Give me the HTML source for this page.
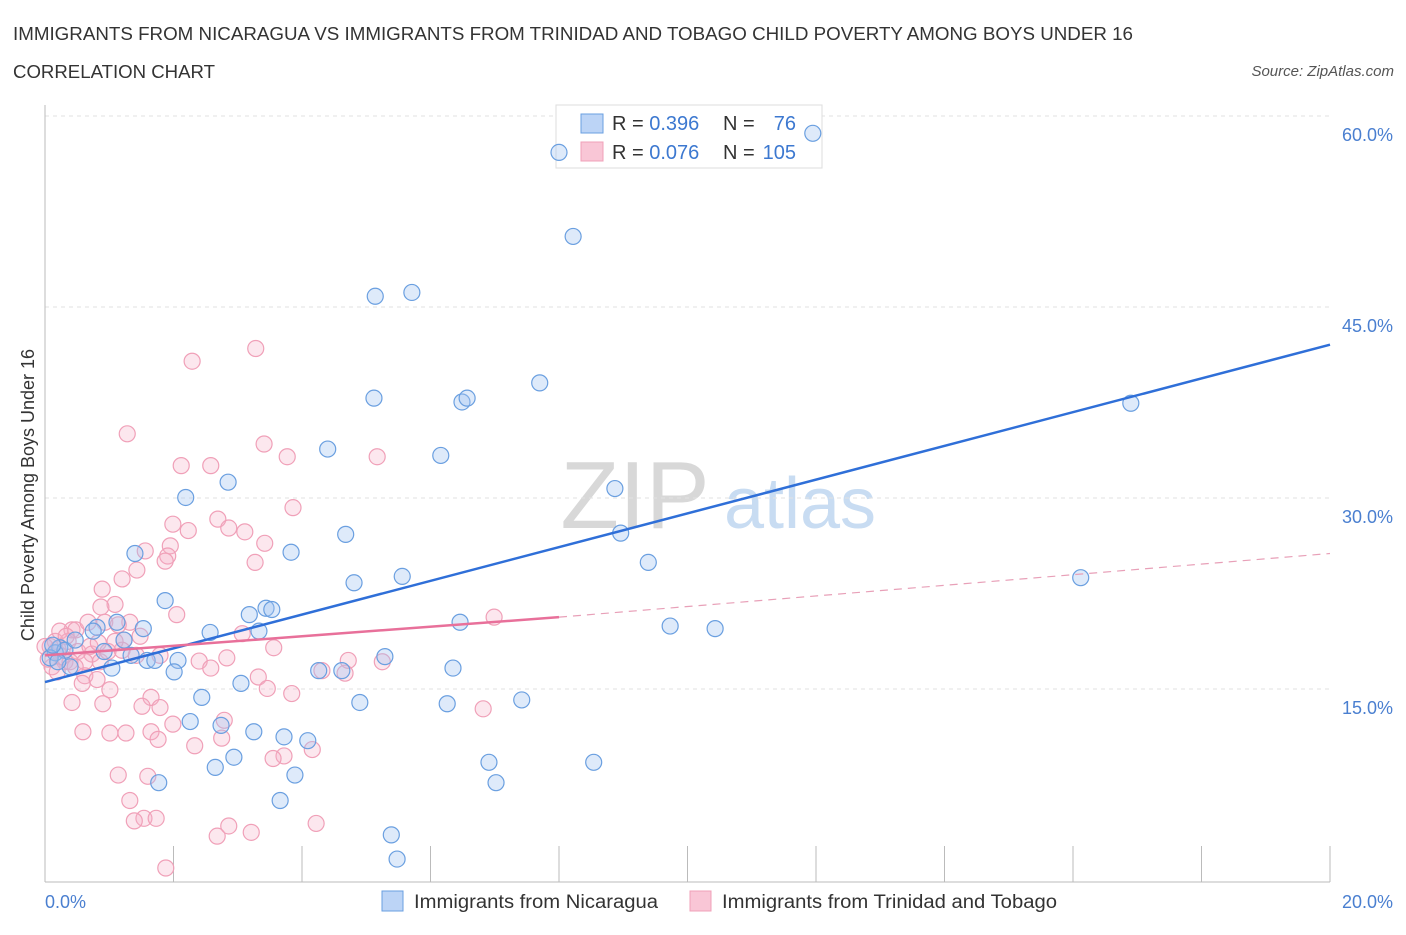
<!DOCTYPE html>
<html><head><meta charset="utf-8"><style>
body{margin:0;background:#fff;font-family:"Liberation Sans",sans-serif;}
svg text{font-family:"Liberation Sans",sans-serif;}
</style></head><body>
<svg id="chart" width="1406" height="930" xmlns="http://www.w3.org/2000/svg">
<text x="13" y="40" font-size="18" fill="#333" textLength="1120" lengthAdjust="spacingAndGlyphs">IMMIGRANTS FROM NICARAGUA VS IMMIGRANTS FROM TRINIDAD AND TOBAGO CHILD POVERTY AMONG BOYS UNDER 16</text>
<text x="13" y="78" font-size="18" fill="#333" textLength="202" lengthAdjust="spacingAndGlyphs">CORRELATION CHART</text>
<text x="1394" y="76" font-size="15" fill="#555" text-anchor="end" font-style="italic">Source: ZipAtlas.com</text>
<text x="635" y="528" font-size="96" fill="#d8d8d8" text-anchor="middle" font-family="Liberation Serif">ZIP</text>
<text x="800" y="528" font-size="72" fill="#c8dcf2" text-anchor="middle">atlas</text>
<text transform="translate(34,495) rotate(-90)" font-size="18" fill="#333" text-anchor="middle">Child Poverty Among Boys Under 16</text>
<g id="grid"></g>
<g>
<rect x="556" y="105" width="266" height="63" fill="#fff" stroke="#ddd"/>
<rect x="581" y="114" width="22" height="19" fill="#bcd4f6" stroke="#6a9fe0"/>
<rect x="581" y="142" width="22" height="19" fill="#f9c6d6" stroke="#f0a0b8"/>
<text x="612" y="130" font-size="20" fill="#333">R = <tspan fill="#3c78d0">0.396</tspan></text>
<text x="723" y="130" font-size="20" fill="#333">N =</text>
<text x="796" y="130" font-size="20" fill="#3c78d0" text-anchor="end">76</text>
<text x="612" y="159" font-size="20" fill="#333">R = <tspan fill="#3c78d0">0.076</tspan></text>
<text x="723" y="159" font-size="20" fill="#333">N =</text>
<text x="796" y="159" font-size="20" fill="#3c78d0" text-anchor="end">105</text>
</g>
<g id="pts"></g><g id="lines"></g>
<g>
<rect x="382" y="891" width="21" height="20" fill="#bcd4f6" stroke="#6a9fe0"/>
<text x="414" y="908" font-size="19" fill="#333" textLength="244" lengthAdjust="spacingAndGlyphs">Immigrants from Nicaragua</text>
<rect x="690" y="891" width="21" height="20" fill="#f9c6d6" stroke="#f0a0b8"/>
<text x="722" y="908" font-size="19" fill="#333" textLength="335" lengthAdjust="spacingAndGlyphs">Immigrants from Trinidad and Tobago</text>
</g>
</svg>
<script>
const blueX=[11.95,8.0,8.22,5.14,5.71,7.70,5.12,6.49,6.57,16.9,4.40,6.16,2.85,2.19,8.87,4.68,8.96,1.40,3.83,9.39,4.81,5.56,16.12,1.87,3.44,3.53,3.18,6.46,9.73,10.43,0.81,1.53,2.57,3.33,1.12,1.23,0.75,0.92,1.34,1.59,1.71,2.07,5.29,6.35,2.01,4.26,4.62,1.04,3.05,2.44,4.90,6.26,7.42,2.26,2.74,3.25,3.72,4.09,2.94,2.65,3.89,6.91,8.54,1.77,7.02,3.66,5.39,5.48,0.23,0.16,0.31,0.08,0.39,0.47,0.2,0.12];
const blueY=[58.8,57.3,50.7,46.0,46.3,39.2,38.0,37.7,38.0,37.6,34.0,33.5,31.4,30.2,30.9,27.3,27.4,25.8,25.9,25.1,23.5,24.0,23.9,22.1,21.5,21.4,21.0,20.4,20.1,19.9,20.0,19.9,19.6,19.7,20.4,19.0,19.7,18.1,17.8,17.4,17.4,17.4,17.7,16.8,16.5,16.6,16.6,16.8,15.6,14.5,14.1,14.0,14.3,12.6,12.3,11.8,11.4,11.1,9.8,9.0,8.4,9.4,9.4,7.8,7.8,6.4,3.7,1.8,18.4,18.0,18.2,17.6,16.9,19.0,17.3,18.6];
const pinkX=[3.28,2.29,1.28,3.41,2.12,2.58,3.77,5.17,3.86,2.69,1.99,2.86,2.23,3.11,3.42,1.95,1.56,1.91,1.87,3.27,1.43,1.20,0.89,1.09,0.87,2.05,6.99,1.32,0.42,0.48,0.67,0.93,1.14,3.07,1.48,1.23,3.56,0.73,1.20,1.42,1.79,2.83,4.72,5.25,2.40,2.58,4.31,4.67,3.32,0.62,0.81,0.58,1.01,3.46,3.84,1.65,0.42,0.90,1.51,1.79,1.99,2.79,1.65,1.76,1.26,1.01,0.59,2.33,2.75,3.72,3.55,4.16,6.82,1.14,1.60,1.32,1.54,1.39,1.73,2.86,3.21,2.68,4.22,1.88,0.16,0.08,0.2,0.26,0.31,0.11,0.39,0.36,0.0,0.51,0.62,0.7,0.83,0.23,0.05,0.86,0.98,1.09,0.19,0.33,0.47];
const pinkY=[41.9,40.9,35.2,34.4,32.7,32.7,33.4,33.4,29.4,28.5,28.1,27.8,27.6,27.5,26.6,26.4,26.0,25.6,25.2,25.1,24.5,23.8,23.0,21.8,21.6,21.0,20.8,20.4,19.8,19.8,20.4,20.4,20.2,19.5,19.3,19.0,18.4,17.9,18.2,17.8,17.8,17.6,17.4,17.3,17.35,16.8,16.6,16.4,16.1,16.2,15.9,15.6,15.1,15.2,14.8,14.5,14.1,14.0,13.8,13.7,12.4,12.7,11.8,11.2,11.7,11.7,11.8,10.7,11.3,9.9,9.7,10.4,13.6,8.4,8.3,6.4,5.0,4.8,5.0,4.4,3.9,3.6,4.6,1.1,18.9,18.5,18.3,17.7,17.3,16.9,17.3,18.9,18.5,18.1,17.3,18.5,18.8,19.7,17.5,17.3,18.1,18.9,16.5,19.3,16.9];
const yTicks=[15,30,45,60];
const yTickLabels=["15.0%","30.0%","45.0%","60.0%"];
const blueTrend=[[0,15.7],[20,42.2]];
const pinkTrend=[[0,17.8],[8,20.8],[20,25.8]];
const NS="http://www.w3.org/2000/svg";
const X=v=>45+v*64.25, Y=v=>882-v*12.733;
function mk(t,a,p){const e=document.createElementNS(NS,t);for(const k in a)e.setAttribute(k,a[k]);p.appendChild(e);return e;}
const g=document.getElementById('grid');
yTicks.forEach((t,i)=>{
 const l=mk('line',{x1:45,x2:1330,y1:Y(t)-2,y2:Y(t)-2,stroke:'#e2e2e2','stroke-dasharray':'4,4'},g);
 
 
 const tx=mk('text',{x:1393,y:Y(t)+23,'font-size':18,fill:'#4a7fd0','text-anchor':'end'},g);
 tx.textContent=yTickLabels[i];
 
 
});
mk('line',{x1:45,x2:45,y1:105,y2:882,stroke:'#bbb'},g);
mk('line',{x1:45,x2:1330,y1:882,y2:882,stroke:'#bbb'},g);
for(let i=0;i<=10;i++){const t=mk('line',{x1:X(i*2),x2:X(i*2),y1:846,y2:882,stroke:'#bbb'},g);
 
 }
const x0=mk('text',{x:45,y:908,'font-size':18,fill:'#4a7fd0'},g);x0.textContent='0.0%';


const x1=mk('text',{x:1393,y:908,'font-size':18,fill:'#4a7fd0','text-anchor':'end'},g);x1.textContent='20.0%';


const p=document.getElementById('pts');
pinkX.forEach((v,i)=>{const c=mk('circle',{cx:X(v),cy:Y(pinkY[i]),r:8,fill:'rgba(245,175,198,0.3)',stroke:'#f0a0b8','stroke-width':1.2},p);
 
 });
blueX.forEach((v,i)=>{const c=mk('circle',{cx:X(v),cy:Y(blueY[i]),r:8,fill:'rgba(160,196,240,0.35)',stroke:'#6a9fe0','stroke-width':1.2},p);
 
 });
const L=document.getElementById('lines');
const bl=mk('line',{x1:X(blueTrend[0][0]),y1:Y(blueTrend[0][1]),x2:X(blueTrend[1][0]),y2:Y(blueTrend[1][1]),stroke:'#2f6fd8','stroke-width':2.5},L);


const pl=mk('line',{x1:X(pinkTrend[0][0]),y1:Y(pinkTrend[0][1]),x2:X(pinkTrend[1][0]),y2:Y(pinkTrend[1][1]),stroke:'#e8709a','stroke-width':2.5},L);


const pd=mk('line',{x1:X(pinkTrend[1][0]),y1:Y(pinkTrend[1][1]),x2:X(pinkTrend[2][0]),y2:Y(pinkTrend[2][1]),stroke:'#e8a0b8','stroke-width':1.2,'stroke-dasharray':'8,6'},L);


</script>
</body></html>
